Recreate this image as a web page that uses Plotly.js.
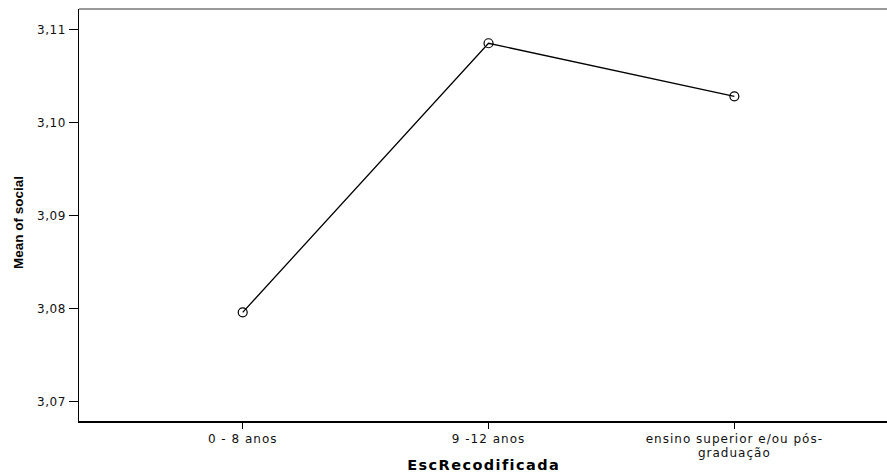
<!DOCTYPE html>
<html><head><meta charset="utf-8">
<script src="https://cdn.plot.ly/plotly-3.0.1.min.js"></script>
<style>
body{margin:0;background:#fff}#c{width:887px;height:473px}
.xtick text{letter-spacing:1px}
.ytick text{letter-spacing:0.6px}
.annotation-text-g text.xt{letter-spacing:1.4px}
</style>
</head><body><div id="c"></div>
<script>
const categories = ["0 - 8 anos", "9 -12 anos", "ensino superior e/ou pós-<br>graduação"];
const meanSocial = [3.0796, 3.1085, 3.1028];
const yTicks = [3.07, 3.08, 3.09, 3.10, 3.11];
const xTitle = "EscRecodificada";
const yTitle = "Mean of social";

const trace = {
  x: [0, 1, 2], y: meanSocial, type: 'scatter', mode: 'lines+markers',
  line: {color: '#000', width: 1.3},
  marker: {symbol: 'circle-open', size: 9, color: '#000', line: {width: 1.2}},
  hoverinfo: 'none'
};
const layout = {
  width: 887, height: 473,
  margin: {l: 79, r: 0, t: 9, b: 52},
  paper_bgcolor: '#fff', plot_bgcolor: '#fff',
  separators: ',.',
  showlegend: false,
  font: {family: 'Liberation Sans, Arial, sans-serif', color: '#000', size: 11},
  xaxis: {
    range: [-0.666, 2.621], tickmode: 'array', tickvals: [0, 1, 2], ticktext: categories,
    showgrid: false, zeroline: false, showline: true, linecolor: '#000', linewidth: 1.5,
    ticks: 'outside', ticklen: 6, tickcolor: '#000', tickwidth: 1.5,
    tickfont: {family: 'DejaVu Sans', size: 12, color: '#111'}
  },
  yaxis: {
    range: [3.06793, 3.11218], tickmode: 'array', tickvals: yTicks, tickformat: '.2f',
    showgrid: false, zeroline: false, showline: true, linecolor: '#000', linewidth: 1.5,
    ticks: 'outside', ticklen: 9, tickcolor: '#000', tickwidth: 1.2,
    tickfont: {family: 'DejaVu Sans', size: 12, color: '#111'}
  },
  annotations: [
    {text: '<b>' + xTitle + '</b>', xref: 'paper', yref: 'paper', x: 0.5, y: -0.107,
     xanchor: 'center', yanchor: 'middle', showarrow: false,
     font: {family: 'DejaVu Sans', size: 14.5, color: '#000'}},
    {text: '<b>' + yTitle + '</b>', xref: 'paper', yref: 'paper', x: -0.0755, y: 0.483,
     xanchor: 'center', yanchor: 'middle', showarrow: false, textangle: -90,
     font: {family: 'Liberation Sans', size: 13.5, color: '#000'}}
  ],
  shapes: [{type: 'line', xref: 'paper', yref: 'paper', x0: 0, x1: 1, y0: 1, y1: 1,
            line: {color: '#777', width: 1.5}}]
};
Plotly.newPlot('c', [trace], layout, {staticPlot: true}).then(function () {
  document.querySelectorAll('.xtick text tspan.line').forEach(function (t) {
    const dy = t.getAttribute('dy') || '';
    const v = parseFloat(dy);
    if (v > 0) t.setAttribute('dy', dy.replace(String(v), String(+(v * 1.18 / 1.3).toFixed(3))));
  });
  const anns = document.querySelectorAll('.annotation-text-g text');
  if (anns.length) anns[0].classList.add('xt');
});
</script></body></html>
